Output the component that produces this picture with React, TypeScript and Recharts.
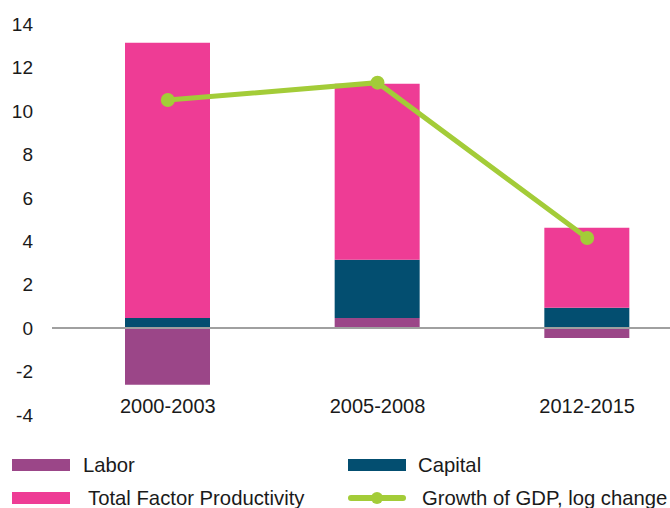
import React from 'react';
import {
  ComposedChart,
  Bar,
  Line,
  XAxis,
  YAxis,
  ReferenceLine,
} from 'recharts';

const periods = ['2000-2003', '2005-2008', '2012-2015'];
const labor = [-2.61, 0.47, -0.45];
const capital = [0.47, 2.68, 0.94];
const tfp = [12.67, 8.1, 3.68];
const gdpGrowth = [10.5, 11.3, 4.15];
const yTicks = [-4, -2, 0, 2, 4, 6, 8, 10, 12, 14];

const COLORS = {
  labor: '#9b4688',
  capital: '#034e70',
  tfp: '#ee3c95',
  gdp: '#a3cc38',
};

const FONT = '"Liberation Sans", Arial, sans-serif';

const data = periods.map((p, i) => ({
  period: p,
  labor: labor[i],
  capital: capital[i],
  tfp: tfp[i],
  gdp: gdpGrowth[i],
}));

// category labels sit just above the bottom of the value range
const CategoryTick = (props: any) => {
  const { x, payload } = props;
  return (
    <text
      x={x}
      y={413}
      textAnchor="middle"
      fill="#1a1a1a"
      fontSize={20}
      fontFamily={FONT}
    >
      {payload.value}
    </text>
  );
};

const swatch = (color: string) => (
  <span
    style={{
      position: 'absolute',
      left: 0,
      top: -6,
      width: 58,
      height: 12,
      background: color,
    }}
  />
);

const lineIcon = (
  <span style={{ position: 'absolute', left: 0, top: -6, width: 58, height: 12 }}>
    <svg width={58} height={12} style={{ display: 'block' }}>
      <line x1={3} y1={6} x2={55} y2={6} stroke={COLORS.gdp} strokeWidth={6} strokeLinecap="round" />
      <circle cx={29} cy={6} r={6} fill={COLORS.gdp} />
    </svg>
  </span>
);

const legendItems = [
  { label: 'Labor', icon: swatch(COLORS.labor), left: 12, top: 465, textLeft: 71 },
  { label: 'Capital', icon: swatch(COLORS.capital), left: 348, top: 465, textLeft: 70 },
  { label: 'Total Factor Productivity', icon: swatch(COLORS.tfp), left: 12, top: 498, textLeft: 76 },
  { label: 'Growth of GDP, log change', icon: lineIcon, left: 348, top: 498, textLeft: 74 },
];

export default function App() {
  return (
    <div
      style={{
        position: 'fixed',
        left: 0,
        top: 0,
        width: 670,
        height: 508,
        overflow: 'hidden',
        background: '#fff',
      }}
    >
      <ComposedChart
        width={692}
        height={508}
        data={data}
        stackOffset="sign"
        margin={{ top: 24, right: 0, bottom: 63, left: 0 }}
      >
        <XAxis
          dataKey="period"
          axisLine={false}
          tickLine={false}
          tickSize={0}
          tickMargin={0}
          height={30}
          padding={{ left: 11, right: 0 }}
          tick={<CategoryTick />}
          interval={0}
        />
        <YAxis
          width={52}
          domain={[-4, 14]}
          ticks={yTicks}
          axisLine={false}
          tickLine={false}
          tickSize={0}
          tickMargin={19}
          tick={{ fill: '#1a1a1a', fontSize: 19, fontFamily: FONT }}
        />
        <Bar dataKey="labor" name="Labor" stackId="a" fill={COLORS.labor} barSize={85} isAnimationActive={false} />
        <Bar dataKey="capital" name="Capital" stackId="a" fill={COLORS.capital} barSize={85} isAnimationActive={false} />
        <Bar dataKey="tfp" name="Total Factor Productivity" stackId="a" fill={COLORS.tfp} barSize={85} isAnimationActive={false} />
        <ReferenceLine y={0} stroke="#a0a0a0" strokeWidth={2} />
        <Line
          dataKey="gdp"
          name="Growth of GDP, log change"
          stroke={COLORS.gdp}
          strokeWidth={5}
          dot={{ r: 7, fill: COLORS.gdp, stroke: COLORS.gdp, strokeWidth: 0 }}
          activeDot={false}
          isAnimationActive={false}
        />
      </ComposedChart>
      {legendItems.map((it) => (
        <div
          key={it.label}
          style={{ position: 'absolute', left: it.left, top: it.top }}
        >
          {it.icon}
          <span
            style={{
              position: 'absolute',
              left: it.textLeft,
              top: -12,
              whiteSpace: 'nowrap',
              fontFamily: FONT,
              fontSize: 20.3,
              lineHeight: '24px',
              color: '#1a1a1a',
            }}
          >
            {it.label}
          </span>
        </div>
      ))}
    </div>
  );
}
